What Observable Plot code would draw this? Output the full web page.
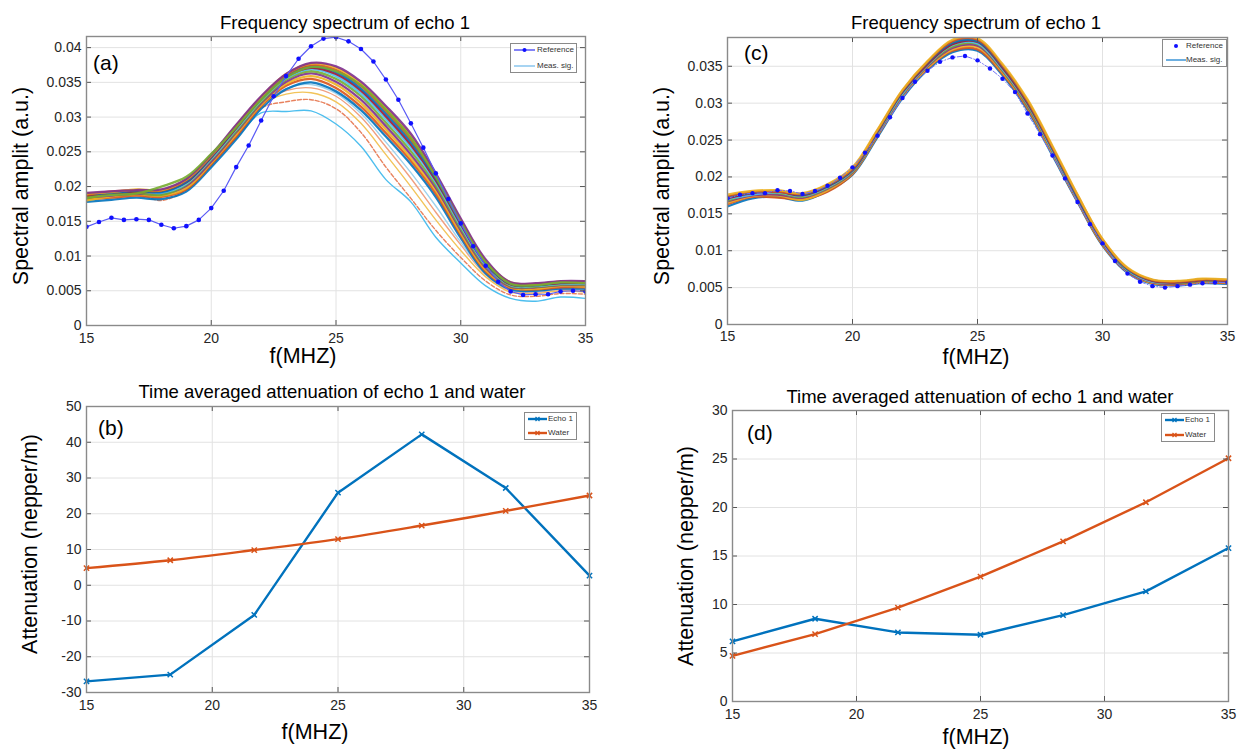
<!DOCTYPE html>
<html><head><meta charset="utf-8">
<script src="https://cdn.jsdelivr.net/npm/d3@7"></script>
<script src="https://cdn.jsdelivr.net/npm/@observablehq/plot@0.6"></script>
<style>
body{margin:0;background:#fff;}
#wrap{position:relative;width:1240px;height:751px;overflow:hidden;font-family:"Liberation Sans",Arial,sans-serif;background:#fff;}
#wrap svg{position:absolute;left:0;top:0;}
.t{position:absolute;white-space:nowrap;color:#000;line-height:1;}
.title{font-size:18.5px;transform:translate(-50%,-50%);}
.xl{font-size:21.5px;transform:translate(-50%,-50%);}
.yl{font-size:21.5px;transform:translate(-50%,-50%) rotate(-90deg);}
.pl{font-size:21px;transform:translate(0,-50%);}
.leg{position:absolute;border:1px solid #8a8a8a;background:#fff;font-size:8px;color:#333;}
.leg div{position:absolute;white-space:nowrap;line-height:1;}
.leg svg{position:absolute !important;}
</style></head><body><div id="wrap"></div>
<script>
// ---------------- data ----------------
const freq1 = [15,16,17,18,19,20,21,22,23,24,25,26,27,28,29,30,31,32,33,34,35];
const freqHalf = [15,15.5,16,16.5,17,17.5,18,18.5,19,19.5,20,20.5,21,21.5,22,22.5,23,23.5,24,24.5,25,25.5,26,26.5,27,27.5,28,28.5,29,29.5,30,30.5,31,31.5,32,32.5,33,33.5,34,34.5,35];

// (a) reference spectrum
const refA = [0.0142,0.0149,0.0155,0.0152,0.0153,0.0152,0.0145,0.0140,0.0143,0.0152,0.0169,0.0194,0.0228,0.0259,0.0295,0.0330,0.0359,0.0384,0.0402,0.0413,0.0415,0.0409,0.0398,0.0380,0.0354,0.0325,0.0291,0.0256,0.0219,0.0182,0.0147,0.0114,0.0086,0.0063,0.0049,0.0044,0.0045,0.0045,0.0049,0.0050,0.0049];
// (a) measured signals (main band)
const measA = [
 [0.0178,0.0181,0.0184,0.0182,0.0193,0.0228,0.0268,0.0312,0.0340,0.0350,0.0337,0.0310,0.0272,0.0232,0.0185,0.0126,0.0075,0.0052,0.0050,0.0053,0.0053],
 [0.0182,0.0184,0.0187,0.0185,0.0196,0.0232,0.0272,0.0316,0.0345,0.0355,0.0342,0.0315,0.0277,0.0237,0.0190,0.0130,0.0078,0.0054,0.0052,0.0055,0.0055],
 [0.0180,0.0186,0.0189,0.0187,0.0198,0.0234,0.0275,0.0318,0.0348,0.0359,0.0347,0.0320,0.0282,0.0241,0.0194,0.0133,0.0080,0.0055,0.0053,0.0057,0.0056],
 [0.0185,0.0187,0.0190,0.0189,0.0201,0.0236,0.0278,0.0320,0.0351,0.0363,0.0351,0.0325,0.0287,0.0246,0.0198,0.0137,0.0083,0.0056,0.0055,0.0058,0.0058],
 [0.0183,0.0189,0.0191,0.0188,0.0203,0.0239,0.0280,0.0322,0.0354,0.0366,0.0355,0.0330,0.0292,0.0251,0.0202,0.0140,0.0085,0.0057,0.0056,0.0059,0.0059],
 [0.0187,0.0188,0.0193,0.0191,0.0204,0.0240,0.0282,0.0324,0.0356,0.0369,0.0359,0.0334,0.0297,0.0256,0.0206,0.0143,0.0087,0.0058,0.0057,0.0060,0.0060],
 [0.0186,0.0190,0.0192,0.0193,0.0206,0.0242,0.0284,0.0326,0.0358,0.0371,0.0362,0.0338,0.0301,0.0260,0.0209,0.0146,0.0089,0.0059,0.0058,0.0061,0.0061],
 [0.0189,0.0191,0.0194,0.0192,0.0207,0.0243,0.0286,0.0327,0.0360,0.0373,0.0365,0.0341,0.0305,0.0264,0.0212,0.0148,0.0090,0.0060,0.0058,0.0062,0.0062],
 [0.0188,0.0193,0.0195,0.0194,0.0209,0.0244,0.0287,0.0328,0.0361,0.0375,0.0368,0.0345,0.0309,0.0268,0.0215,0.0150,0.0092,0.0061,0.0059,0.0063,0.0062],
 [0.0190,0.0192,0.0196,0.0195,0.0210,0.0245,0.0288,0.0329,0.0362,0.0377,0.0371,0.0348,0.0313,0.0272,0.0217,0.0152,0.0093,0.0062,0.0060,0.0063,0.0063],
 [0.0191,0.0193,0.0195,0.0196,0.0211,0.0246,0.0289,0.0330,0.0362,0.0378,0.0373,0.0351,0.0316,0.0276,0.0219,0.0154,0.0095,0.0062,0.0061,0.0064,0.0064],
 [0.0184,0.0188,0.0190,0.0200,0.0214,0.0247,0.0285,0.0325,0.0357,0.0372,0.0366,0.0346,0.0311,0.0270,0.0214,0.0149,0.0091,0.0060,0.0058,0.0062,0.0061]
];
// (a) measured signals (low outliers)
const outA1 = [0.0180,0.0185,0.0188,0.0186,0.0198,0.0232,0.0270,0.0306,0.0308,0.0309,0.0290,0.0258,0.0210,0.0178,0.0127,0.0090,0.0057,0.0039,0.0035,0.0041,0.0039];
const outA2 = [0.0181,0.0185,0.0189,0.0180,0.0195,0.0230,0.0272,0.0313,0.0322,0.0325,0.0312,0.0278,0.0228,0.0183,0.0137,0.0098,0.0064,0.0044,0.0042,0.0046,0.0045];
const outA3 = [0.0183,0.0186,0.0190,0.0187,0.0199,0.0234,0.0276,0.0318,0.0333,0.0335,0.0322,0.0291,0.0246,0.0200,0.0152,0.0108,0.0070,0.0048,0.0046,0.0050,0.0048];
const outA4 = [0.0182,0.0187,0.0191,0.0189,0.0200,0.0236,0.0278,0.0320,0.0338,0.0342,0.0330,0.0300,0.0257,0.0212,0.0163,0.0116,0.0073,0.0050,0.0048,0.0052,0.0051];
const outA5 = [0.0181,0.0186,0.0190,0.0188,0.0199,0.0235,0.0277,0.0319,0.0341,0.0347,0.0334,0.0305,0.0264,0.0220,0.0172,0.0120,0.0074,0.0051,0.0049,0.0053,0.0052];

// (c) reference spectrum
const refC = [0.0171,0.0176,0.0178,0.0178,0.0182,0.0181,0.0177,0.0181,0.0188,0.0199,0.0213,0.0233,0.0256,0.0281,0.0307,0.0329,0.0344,0.0356,0.0362,0.0364,0.0358,0.0347,0.0333,0.0315,0.0286,0.0258,0.0229,0.0198,0.0166,0.0136,0.0110,0.0086,0.0069,0.0058,0.0052,0.0050,0.0052,0.0054,0.0056,0.0057,0.0057];
// (c) measured signals
const measC = [
 [0.0160,0.0171,0.0173,0.0168,0.0181,0.0203,0.0254,0.0307,0.0345,0.0369,0.0371,0.0338,0.0291,0.0229,0.0166,0.0107,0.0070,0.0055,0.0053,0.0056,0.0055],
 [0.0163,0.0173,0.0172,0.0170,0.0180,0.0204,0.0256,0.0309,0.0347,0.0371,0.0373,0.0340,0.0293,0.0231,0.0167,0.0108,0.0071,0.0056,0.0054,0.0057,0.0056],
 [0.0165,0.0174,0.0175,0.0169,0.0182,0.0205,0.0257,0.0310,0.0348,0.0373,0.0376,0.0342,0.0295,0.0232,0.0168,0.0109,0.0072,0.0056,0.0055,0.0058,0.0057],
 [0.0167,0.0175,0.0176,0.0172,0.0184,0.0206,0.0258,0.0311,0.0350,0.0375,0.0378,0.0344,0.0296,0.0234,0.0169,0.0110,0.0072,0.0057,0.0055,0.0059,0.0058],
 [0.0168,0.0177,0.0178,0.0173,0.0185,0.0207,0.0259,0.0312,0.0351,0.0377,0.0380,0.0345,0.0297,0.0235,0.0170,0.0111,0.0073,0.0058,0.0056,0.0059,0.0058],
 [0.0170,0.0176,0.0179,0.0174,0.0186,0.0208,0.0260,0.0313,0.0352,0.0379,0.0381,0.0346,0.0299,0.0236,0.0171,0.0112,0.0074,0.0058,0.0057,0.0060,0.0059],
 [0.0171,0.0178,0.0180,0.0175,0.0187,0.0209,0.0261,0.0315,0.0353,0.0380,0.0383,0.0348,0.0300,0.0238,0.0172,0.0113,0.0075,0.0059,0.0057,0.0060,0.0059],
 [0.0173,0.0179,0.0181,0.0176,0.0188,0.0210,0.0262,0.0316,0.0355,0.0382,0.0384,0.0350,0.0302,0.0239,0.0173,0.0114,0.0075,0.0060,0.0058,0.0061,0.0060],
 [0.0174,0.0180,0.0180,0.0177,0.0189,0.0211,0.0263,0.0317,0.0356,0.0384,0.0386,0.0351,0.0303,0.0240,0.0175,0.0115,0.0076,0.0060,0.0058,0.0061,0.0060],
 [0.0176,0.0181,0.0182,0.0178,0.0190,0.0213,0.0264,0.0318,0.0357,0.0386,0.0388,0.0353,0.0305,0.0242,0.0176,0.0116,0.0077,0.0061,0.0059,0.0062,0.0061]
];

// (b), (d) attenuation
const attFreq = [15,18.33,21.67,25,28.33,31.67,35];
const echoB  = [-26.9,-25.0,-8.3,25.9,42.2,27.2,2.7];
const waterB = [4.8,7.0,9.85,12.9,16.7,20.8,25.1];
const echoD  = [6.19,8.53,7.12,6.88,8.91,11.35,15.82];
const waterD = [4.71,6.95,9.67,12.87,16.51,20.54,25.08];

// ticks
const xTicks  = [15,20,25,30,35];
const yTicksA = [0,0.005,0.01,0.015,0.02,0.025,0.03,0.035,0.04];
const yTicksC = [0,0.005,0.01,0.015,0.02,0.025,0.03,0.035];
const yTicksB = [-30,-20,-10,0,10,20,30,40,50];
const yTicksD = [0,5,10,15,20,25,30];

const matlab = ["#0072BD","#D95319","#EDB120","#7E2F8E","#77AC30","#4DBEEE","#A2142F"];
const cEcho = "#0072BD", cWater = "#D95319";

// ---------------- helpers ----------------
const W = 1240, H = 751;
const wrap = document.getElementById("wrap");

function rowsOf(curves){
  return curves.flatMap((arr,i)=>arr.map((v,j)=>({f:freq1[j], v, id:i, c:matlab[i%7]})));
}
function single(xs, ys){ return ys.map((v,j)=>({f:xs[j], v})); }

function gridMarks(xt, yt){
  return [
    Plot.gridX(xt,{stroke:"#e2e2e2",strokeOpacity:1}),
    Plot.gridY(yt,{stroke:"#e2e2e2",strokeOpacity:1}),
  ];
}
function axisMarks(xt, yt, box, padX){
  const h = box.bottom-box.top, w = box.right-box.left;
  return [
    Plot.tickX(xt,{x:d=>d, insetTop:h-5, stroke:"#555"}),
    Plot.tickX(xt,{x:d=>d, insetBottom:h-5, stroke:"#555"}),
    Plot.tickY(yt,{y:d=>d, insetRight:w-5, stroke:"#555"}),
    Plot.tickY(yt,{y:d=>d, insetLeft:w-5, stroke:"#555"}),
    Plot.frame({stroke:"#8a8a8a", strokeWidth:1.4}),
    Plot.axisX(xt,{anchor:"bottom", tickSize:0, tickPadding:padX, tickFormat:d=>String(d), label:null, fill:"#262626"}),
    Plot.axisY(yt,{anchor:"left", tickSize:0, tickPadding:5, tickFormat:d=>String(d), label:null, fill:"#262626"})
  ];
}
function makePlot(box, ydom, marks){
  const svg = Plot.plot({
    width:W, height:H,
    marginLeft:box.left, marginRight:W-box.right, marginTop:box.top, marginBottom:H-box.bottom,
    x:{domain:[15,35]}, y:{domain:ydom},
    color:{type:"identity"},
    style:{background:"transparent", fontFamily:"'Liberation Sans', Arial, sans-serif", fontSize:"14px", color:"#262626", overflow:"visible"},
    marks
  });
  wrap.appendChild(svg);
}
function text(cls, x, y, s){
  const d = document.createElement("div");
  d.className = "t " + cls; d.style.left = x+"px"; d.style.top = y+"px"; d.textContent = s;
  wrap.appendChild(d);
}
function legend(x, y, w, h, items){
  const d = document.createElement("div");
  d.className = "leg";
  d.style.left = x+"px"; d.style.top = y+"px"; d.style.width = w+"px"; d.style.height = h+"px";
  let html = "";
  items.forEach((it,i)=>{
    const cy = 6 + i*(h-12);
    let g = "";
    if (it.line) g += `<line x1="0" x2="${it.len}" y1="4" y2="4" stroke="${it.color}" stroke-width="${it.sw||1.5}"/>`;
    if (it.dot) g += `<circle cx="${it.len/2}" cy="4" r="${it.r||2}" fill="${it.dot}"/>`;
    if (it.cross) g += `<path d="M${it.len/2-2},2 L${it.len/2+2},6 M${it.len/2-2},6 L${it.len/2+2},2" stroke="${it.color}" stroke-width="1.2"/>`;
    html += `<svg width="${it.len}" height="8" style="left:${it.x0}px;top:${cy-4}px">${g}</svg>`;
    html += `<div style="left:${it.tx}px;top:${cy-4}px">${it.label}</div>`;
  });
  d.innerHTML = html;
  wrap.appendChild(d);
}

// ---------------- panel (a) ----------------
const boxA = {left:86,right:585,top:36,bottom:325};
makePlot(boxA, [0,0.0416], [
  ...gridMarks(xTicks, yTicksA),
  Plot.line(single(freq1,outA1),{x:"f",y:"v",stroke:"#4DBEEE",strokeWidth:1.4,curve:"catmull-rom",clip:true}),
  Plot.line(single(freq1,outA2),{x:"f",y:"v",stroke:"#E8825E",strokeWidth:1.4,strokeDasharray:"4,2",curve:"catmull-rom",clip:true}),
  Plot.line(single(freq1,outA3),{x:"f",y:"v",stroke:"#F2C45A",strokeWidth:1.4,curve:"catmull-rom",clip:true}),
  Plot.line(single(freq1,outA4),{x:"f",y:"v",stroke:"#F0A080",strokeWidth:1.4,curve:"catmull-rom",clip:true}),
  Plot.line(single(freq1,outA5),{x:"f",y:"v",stroke:"#9FD3EE",strokeWidth:1.4,curve:"catmull-rom",clip:true}),
  Plot.line(rowsOf(measA),{x:"f",y:"v",z:"id",stroke:"c",strokeWidth:2.3,strokeOpacity:0.9,curve:"catmull-rom",clip:true}),
  Plot.line(single(freqHalf,refA),{x:"f",y:"v",stroke:"#5a5af5",strokeWidth:1.2,clip:true}),
  Plot.dot(single(freqHalf,refA),{x:"f",y:"v",r:2.3,fill:"#1010ff",clip:true}),
  ...axisMarks(xTicks, yTicksA, boxA, 8)
]);

// ---------------- panel (c) ----------------
const boxC = {left:727,right:1227,top:37,bottom:324};
makePlot(boxC, [0,0.0389], [
  ...gridMarks(xTicks, yTicksC),
  Plot.line(rowsOf(measC),{x:"f",y:"v",z:"id",stroke:"c",strokeWidth:2.3,strokeOpacity:0.9,curve:"catmull-rom",clip:true}),
  Plot.line(single(freqHalf,refC),{x:"f",y:"v",stroke:"#7070f5",strokeWidth:1,strokeDasharray:"5,2,1,2",clip:true}),
  Plot.dot(single(freqHalf,refC),{x:"f",y:"v",r:2.2,fill:"#1010ff",clip:true}),
  ...axisMarks(xTicks, yTicksC, boxC, 7)
]);

// ---------------- panel (b) ----------------
const boxB = {left:86,right:589,top:406,bottom:692};
makePlot(boxB, [-30,50], [
  ...gridMarks(xTicks, yTicksB),
  Plot.line(single(attFreq,echoB),{x:"f",y:"v",stroke:cEcho,strokeWidth:2.4}),
  Plot.dot(single(attFreq,echoB),{x:"f",y:"v",symbol:"times",r:2.5,stroke:cEcho,strokeWidth:1.5}),
  Plot.line(single(attFreq,waterB),{x:"f",y:"v",stroke:cWater,strokeWidth:2.4,curve:"catmull-rom"}),
  Plot.dot(single(attFreq,waterB),{x:"f",y:"v",symbol:"times",r:2.5,stroke:cWater,strokeWidth:1.5}),
  ...axisMarks(xTicks, yTicksB, boxB, 8)
]);

// ---------------- panel (d) ----------------
const boxD = {left:732,right:1228,top:410,bottom:701};
makePlot(boxD, [0,30], [
  ...gridMarks(xTicks, yTicksD),
  Plot.line(single(attFreq,echoD),{x:"f",y:"v",stroke:cEcho,strokeWidth:2.4}),
  Plot.dot(single(attFreq,echoD),{x:"f",y:"v",symbol:"times",r:2.5,stroke:cEcho,strokeWidth:1.5}),
  Plot.line(single(attFreq,waterD),{x:"f",y:"v",stroke:cWater,strokeWidth:2.4}),
  Plot.dot(single(attFreq,waterD),{x:"f",y:"v",symbol:"times",r:2.5,stroke:cWater,strokeWidth:1.5}),
  ...axisMarks(xTicks, yTicksD, boxD, 8)
]);

// ---------------- texts ----------------
text("title", 345, 23, "Frequency spectrum of echo 1");
text("title", 976, 23, "Frequency spectrum of echo 1");
text("title", 332, 392, "Time averaged attenuation of echo 1 and water");
text("title", 980, 397, "Time averaged attenuation of echo 1 and water");
text("xl", 303, 357, "f(MHZ)");
text("xl", 976, 358, "f(MHZ)");
text("xl", 315, 733, "f(MHZ)");
text("xl", 976, 738, "f(MHZ)");
text("yl", 22, 186, "Spectral amplit (a.u.)");
text("yl", 663, 186, "Spectral amplit (a.u.)");
text("yl", 31, 544, "Attenuation (nepper/m)");
text("yl", 687, 556, "Attenuation (nepper/m)");
text("pl", 93, 62, "(a)");
text("pl", 744, 52, "(c)");
text("pl", 98, 427, "(b)");
text("pl", 747, 432, "(d)");

// ---------------- legends ----------------
legend(510, 43, 65, 28, [
  {label:"Reference", x0:3, len:21, tx:26, line:true, color:"#5a5af5", dot:"#1010ff"},
  {label:"Meas. sig.", x0:3, len:21, tx:26, line:true, color:"#8ac6ee"}
]);
legend(1162, 39, 63, 26, [
  {label:"Reference", x0:3, len:20, tx:23, dot:"#1010ff"},
  {label:"Meas. sig.", x0:3, len:20, tx:23, line:true, color:"#3d95d6"}
]);
legend(524, 412, 51, 26, [
  {label:"Echo 1", x0:3, len:19, tx:23, line:true, color:cEcho, sw:2.4, cross:true},
  {label:"Water", x0:3, len:19, tx:23, line:true, color:cWater, sw:2.4, cross:true}
]);
legend(1161, 413, 52, 27, [
  {label:"Echo 1", x0:3, len:19, tx:23, line:true, color:cEcho, sw:2.4, cross:true},
  {label:"Water", x0:3, len:19, tx:23, line:true, color:cWater, sw:2.4, cross:true}
]);
</script></body></html>
